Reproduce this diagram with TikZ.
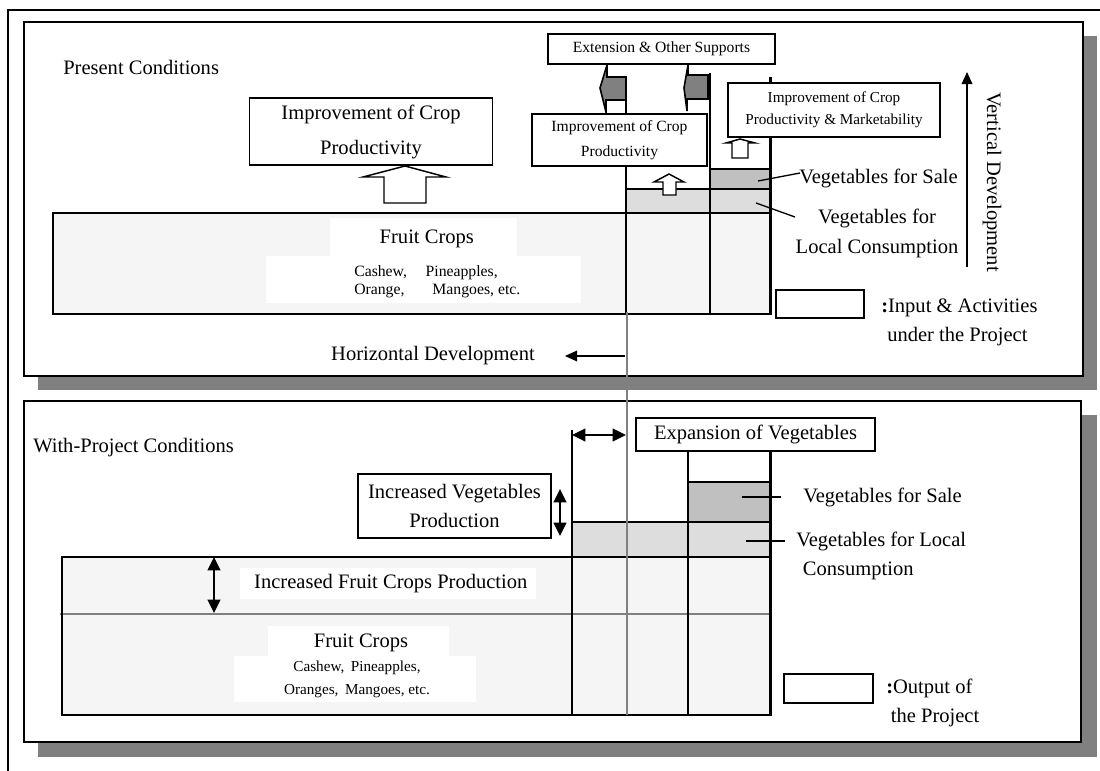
\documentclass[tikz,border=0pt]{standalone}
\usepackage{fontspec}
\setmainfont{Liberation Serif}
\usetikzlibrary{arrows.meta}

\definecolor{shade}{HTML}{808080}
\definecolor{cropfill}{HTML}{F5F5F5}
\definecolor{vegfill}{HTML}{DDDDDD}
\definecolor{salefill}{HTML}{C0C0C0}

\tikzset{
  sz/.style 2 args={minimum width=#1*0.75pt, minimum height=#2*0.75pt},
  labelbox/.style={draw, line width=1.1pt, fill=white, inner sep=0pt, align=center},
  panel/.style={draw, line width=1.4pt, fill=white},
  dropshadow/.style={fill=shade, draw=none},
  rule/.style={line width=1.1pt},
  thickrule/.style={line width=1.8pt},
  greyrule/.style={draw=shade, line width=1.4pt},
  leader/.style={line width=1pt},
  openarrow/.style={draw, fill=white, line width=1.1pt, line join=miter},
  supportarrow/.style={draw, fill=shade, line width=1.2pt, line join=miter},
  dimarrow/.style={line width=1.2pt, {Triangle[length=10pt,width=9.5pt]}-{Triangle[length=10pt,width=9.5pt]}},
  devarrow/.style={line width=1pt, -{Triangle[length=9pt,width=8pt]}},
  txt/.style={inner sep=0pt, font=\fontsize{15.4}{22.5}\selectfont},
  whitepatch/.style={fill=white, draw=none, inner sep=0pt},
}

\begin{document}
\begin{tikzpicture}[x=0.75pt, y=-0.75pt]
\useasboundingbox (0,0) rectangle (1100,771);
\clip (0,0) rectangle (1100,771);

% outer frame
\draw[panel, fill=none] (8,790) -- (8,10) -- (1120,10);

% ---------------- Present conditions panel ----------------
\fill[dropshadow] (38,36) rectangle (1097,390);
\draw[panel] (24,22) rectangle (1083,376);

\node[txt, anchor=west] (present) at (63,67) {Present Conditions};

% crop strip with vegetable columns
\fill[cropfill] (53,213) rectangle (771,314);
\fill[vegfill] (626,189) rectangle (771,213);
\fill[salefill] (710,169) rectangle (771,189);
\draw[rule] (53,213) rectangle (771,314);
\draw[rule] (626,189) -- (771,189);
\draw[rule] (710,169) -- (771,169);
\draw[rule] (626,77) -- (626,314);
\draw[rule] (710,73) -- (710,314);
\draw[thickrule] (770.5,77) -- (770.5,314);

% support arrows
\draw[supportarrow] (626,77) -- (607,77) -- (607,65) -- (600,88) -- (606,112) -- (606,100) -- (626,100) -- cycle;
\draw[supportarrow] (708,75) -- (688,75) -- (688,65) -- (684,88) -- (687,111) -- (687,99) -- (708,99) -- cycle;

% boxes
\node[labelbox, sz={227}{30}, font=\fontsize{11.7}{14}\selectfont] (ext) at (661.5,49) {Extension \& Other Supports};
\node[labelbox, sz={243}{67}, font=\fontsize{15.4}{26}\selectfont] (impA) at (371,131.7) {Improvement of Crop\\Productivity};
\node[labelbox, sz={175}{52}, font=\fontsize{11.7}{18.5}\selectfont] (impB) at (619.5,140) {Improvement of Crop\\Productivity};
\node[labelbox, sz={212}{54}, font=\fontsize{11.4}{16.3}\selectfont] (impC) at (834,110) {Improvement of Crop\\Productivity \& Marketability};

% open arrows
\draw[openarrow] (363,177) -- (405,166) -- (446,177) -- (426,177) -- (426,203) -- (384,203) -- (384,177) -- cycle;
\draw[openarrow] (654,182) -- (669,174) -- (684,182) -- (676,182) -- (676,195) -- (663,195) -- (663,182) -- cycle;
\draw[openarrow] (726,143) -- (740,139) -- (755,143) -- (748,143) -- (748,158) -- (732,158) -- (732,143) -- cycle;

% fruit crop label
\node[whitepatch, sz={187}{38}] (fruitTitleBgA) at (423.5,237) {};
\node[whitepatch, sz={315}{47}] (fruitListBgA) at (423.4,279.2) {};
\node[txt] (fruitTitleA) at (426.8,239.3) {Fruit Crops};
\node[txt, anchor=west, align=left, font=\fontsize{11.8}{13.7}\selectfont] (fruitListA) at (354,281.8)
  {Cashew,\hspace{14pt}Pineapples,\\Orange,\hspace{21pt}Mangoes, etc.};

% vegetable labels
\node[txt, anchor=west] (saleTop) at (799,178) {Vegetables for Sale};
\coordinate (saleTopPt) at (758,181);
\coordinate (saleTopEnd) at (800,173);
\draw[leader] (saleTopPt) -- (saleTopEnd);
\node[txt, align=center] (localTop) at (877,233) {Vegetables for\\Local Consumption};
\coordinate (localTopPt) at (756,203);
\coordinate (localTopEnd) at (795,217);
\draw[leader] (localTopPt) -- (localTopEnd);

% vertical development
\coordinate (vdevFoot) at (967,267);
\coordinate (vdevHead) at (967,72);
\draw[devarrow] (vdevFoot) -- (vdevHead);
\node[txt, rotate=-90] (vdev) at (992,182) {Vertical Development};

% key
\node[labelbox, sz={88}{28}] (keyInput) at (820,304) {};
\node[txt, anchor=west, align=left, font=\fontsize{15.4}{21.8}\selectfont] (keyInputText) at (881,322.5)
  {\textbf{:}Input \& Activities\\\hspace*{4.5pt}under the Project};

% horizontal development
\node[txt, anchor=east] (hdev) at (535,356) {Horizontal Development};
\coordinate (hdevTail) at (625,356);
\coordinate (hdevTip) at (565,356);
\draw[devarrow] (hdevTail) -- (hdevTip);

% ---------------- With-project conditions panel ----------------
\fill[dropshadow] (38,415) rectangle (1097,757);
\draw[panel] (24,401) rectangle (1081,742);

\node[txt, anchor=west] (withproj) at (33,448) {With-Project Conditions};

% crop strip with vegetable columns
\fill[cropfill] (62,557) rectangle (771,715);
\fill[vegfill] (572,522) rectangle (771,557);
\fill[salefill] (688,482) rectangle (771,522);
\draw[greyrule] (60,614) -- (771,614);
\draw[rule] (62,557) rectangle (771,715);
\draw[rule] (572,522) -- (771,522);
\draw[rule] (688,482) -- (771,482);
\draw[rule] (572,430) -- (572,715);
\draw[rule] (688,451) -- (688,715);
\draw[thickrule] (770.5,451) -- (770.5,715);

% expansion of vegetables
\node[labelbox, sz={239}{33}] (expand) at (755.5,434.5) {\fontsize{15.4}{18}\selectfont Expansion of Vegetables};
\coordinate (expL) at (572,435);
\coordinate (expR) at (626,435);
\draw[dimarrow] (expL) -- (expR);

% increased vegetables production
\node[labelbox, sz={193}{64}, font=\fontsize{15.4}{22.3}\selectfont] (incVeg) at (454.5,506) {Increased Vegetables\\Production};
\coordinate (incVegTop) at (560,489);
\coordinate (incVegBot) at (560,536);
\draw[dimarrow] (incVegTop) -- (incVegBot);

% increased fruit crops production
\node[whitepatch, sz={296}{31}] (incFruitBg) at (388.2,583.7) {};
\node[txt] (incFruit) at (390.8,584) {Increased Fruit Crops Production};
\coordinate (incFruitTop) at (214,557);
\coordinate (incFruitBot) at (214,613);
\draw[dimarrow] (incFruitTop) -- (incFruitBot);

% fruit crop label
\node[whitepatch, sz={181}{30}] (fruitTitleBgB) at (358.5,641) {};
\node[whitepatch, sz={242}{46}] (fruitListBgB) at (355.2,679.2) {};
\node[txt] (fruitTitleB) at (361,642.7) {Fruit Crops};
\node[txt, align=center, font=\fontsize{11.4}{16.8}\selectfont] (fruitListB) at (357,679.5)
  {Cashew,\hspace{5pt}Pineapples,\\Oranges,\hspace{5pt}Mangoes, etc.};

% vegetable labels
\node[txt, anchor=west] (saleBot) at (803,497) {Vegetables for Sale};
\coordinate (saleBotPt) at (742,497);
\coordinate (saleBotEnd) at (781,497);
\draw[leader] (saleBotPt) -- (saleBotEnd);
\node[txt, anchor=west, align=left, font=\fontsize{15.4}{21.8}\selectfont] (localBot) at (796,556)
  {Vegetables for Local\\\hspace*{5pt}Consumption};
\coordinate (localBotPt) at (746,541);
\coordinate (localBotEnd) at (785,541);
\draw[leader] (localBotPt) -- (localBotEnd);

% key
\node[labelbox, sz={89}{29}] (keyOutput) at (828.5,688.5) {};
\node[txt, anchor=west, align=left, font=\fontsize{15.4}{21.8}\selectfont] (keyOutputText) at (886,702.5)
  {\textbf{:}Output of\\\hspace*{3.5pt}the Project};

% boundary between present and new vegetable area
\coordinate (divTop) at (627,312);
\coordinate (divBot) at (627,715);
\draw[greyrule] (divTop) -- (divBot);

\end{tikzpicture}
\end{document}
